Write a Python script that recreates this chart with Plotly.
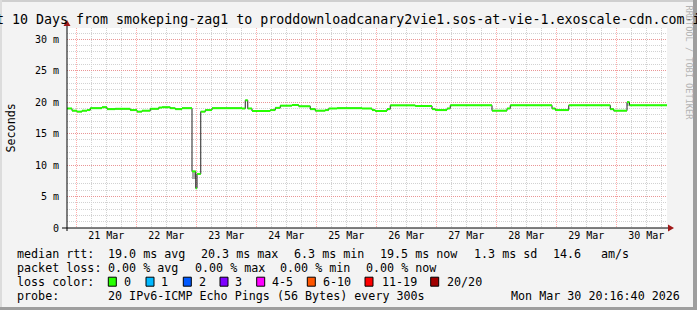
import plotly.graph_objects as go
import pandas as pd

# ---------------- data ----------------
start = pd.Timestamp("2026-03-20 20:16:40")
end = start + pd.Timedelta(days=10)

# median rtt steps: start of each step (hours since start) and value (ms)
seg_start_h = [0, 2, 4, 6, 8, 9.3, 14, 16, 19.3, 25.3,
               28, 30, 33.3, 36.7, 38, 41.3, 43.3, 46, 50, 51.5,
               52, 53.5, 55.3, 58, 70, 71.3, 72.3, 74, 81.3, 83.3,
               85.3, 90, 92.7, 97.3, 99.3, 103.3, 104.7, 108, 118, 122,
               123.3, 128, 129.3, 139.3, 146, 147.3, 152, 153.3, 170, 176,
               177.3, 194, 195.3, 200.7, 217.3, 218.7, 224, 225]
median_ms = [19.0, 18.65, 18.5, 18.65, 18.75, 19.05, 19.2, 18.9, 18.95, 18.75,
             18.5, 18.65, 18.95, 19.15, 19.2, 19.05, 18.9, 19.05, 9.0, 6.3,
             8.6, 18.5, 18.75, 19.05, 19.0, 20.3, 19.0, 18.6, 18.75, 19.1,
             19.45, 19.55, 19.35, 18.9, 18.65, 18.75, 19.0, 19.05, 19.0, 18.75,
             18.6, 18.9, 19.5, 19.4, 18.9, 18.75, 19.0, 19.5, 18.65, 19.0,
             19.5, 19.0, 18.75, 19.5, 18.9, 18.65, 20.0, 19.5]

# visible smoke (ping spread) patches
smoke_start_h = [50, 223.8]
smoke_end_h = [51.5, 224.8]
smoke_lo_ms = [7.8, 19.4]
smoke_hi_ms = [9.0, 20.2]

y_tick_vals = [0, 5, 10, 15, 20, 25, 30]
y_tick_text = ["0", "5 m", "10 m", "15 m", "20 m", "25 m", "30 m"]

title_text = "Last 10 Days from smokeping-zag1 to proddownloadcanary2vie1.sos-at-vie-1.exoscale-cdn.com-ipv6"
rtt_label = "median rtt:"
rtt_items = ["19.0 ms avg", "20.3 ms max", "6.3 ms min", "19.5 ms now", "1.3 ms sd", "14.6", "am/s"]
loss_label = "packet loss:"
loss_items = ["0.00 % avg", "0.00 % max", "0.00 % min", "0.00 % now"]
color_label = "loss color:"
loss_names = ["0", "1", "2", "3", "4-5", "6-10", "11-19", "20/20"]
loss_colors = ["#26ff00", "#00b8ff", "#0059ff", "#7e00ff", "#ff00ff", "#ff5500", "#ff0000", "#a00000"]
probe_label = "probe:"
probe_text = "20 IPv6-ICMP Echo Pings (56 Bytes) every 300s"
stamp_text = "Mon Mar 30 20:16:40 2026"

# ---------------- layout geometry (px) ----------------
W, H = 697, 310
L, R, T, B = 67, 667, 28, 228
PX_PER_MS = 6.29
FONT = "DejaVu Sans Mono"

rtt_x = [107.3, 200, 293.3, 379.3, 472.7, 551.7, 600]
loss_x = [107.3, 194, 279.3, 365]
box_x = [108.3, 146, 183.3, 220, 256.7, 307.3, 365, 430.7]
name_x = [123.3, 160, 197.7, 234.3, 271, 321.7, 380.7, 446]
row_y = [254, 268.3, 281.7, 296]


def px(x):
    return (x - L) / (R - L)


def py(y):
    return (B - y) / (B - T)


def hrs(h):
    return start + pd.Timedelta(hours=h)


t_starts = [hrs(h) for h in seg_start_h]
t_ends = t_starts[1:] + [end]

fig = go.Figure()

# smoke
fig.add_trace(go.Bar(
    x=[hrs((a + b) / 2) for a, b in zip(smoke_start_h, smoke_end_h)],
    y=[h - l for l, h in zip(smoke_lo_ms, smoke_hi_ms)],
    base=smoke_lo_ms,
    width=[(b - a) * 3600000 for a, b in zip(smoke_start_h, smoke_end_h)],
    marker=dict(color=["#a8a8a8", "#c4c4c4"], line=dict(width=0)),
    hoverinfo="skip"))

# dark median (vertical transitions)
fig.add_trace(go.Scatter(
    x=t_starts + [end], y=median_ms + [median_ms[-1]],
    mode="lines", line=dict(color="#202020", width=1, shape="hv"),
    hoverinfo="skip"))

# green horizontal steps (loss 0)
gx, gy = [], []
for a, b, v in zip(t_starts, t_ends, median_ms):
    gx += [a, b, None]
    gy += [v, v, None]
fig.add_trace(go.Scatter(x=gx, y=gy, mode="lines",
                         line=dict(color="#26ff00", width=2), hoverinfo="skip"))

RED_GRID = "rgba(255,90,90,0.5)"
GRAY_GRID = "#d2d2d2"

fig.update_layout(
    width=W, height=H,
    margin=dict(l=L, r=W - R, t=T, b=H - B, pad=0),
    paper_bgcolor="#f3f3f3", plot_bgcolor="#ffffff",
    showlegend=False, bargap=0,
    font=dict(family=FONT, size=10, color="#000000"),
    xaxis=dict(
        type="date", range=[start, end],
        tick0="2026-03-21 00:00:00", dtick=86400000,
        ticklabelmode="period", tickformat="%d %b",
        showgrid=True, gridcolor=RED_GRID, griddash="1px,1px", gridwidth=1,
        minor=dict(dtick=21600000, tick0="2026-03-21 00:00:00", showgrid=True,
                   gridcolor=GRAY_GRID, griddash="1px,1px", gridwidth=1),
        ticks="", showline=False, zeroline=False,
        tickfont=dict(family=FONT, size=10, color="#000000"),
    ),
    yaxis=dict(
        range=[0, (B - T) / PX_PER_MS],
        tickvals=y_tick_vals, ticktext=y_tick_text,
        showgrid=True, gridcolor=RED_GRID, griddash="1px,1px", gridwidth=1,
        minor=dict(dtick=1, tick0=0, showgrid=True,
                   gridcolor=GRAY_GRID, griddash="1px,1px", gridwidth=1),
        ticks="outside", ticklen=5, tickcolor="rgba(0,0,0,0)",
        showline=False, zeroline=False,
        tickfont=dict(family=FONT, size=10, color="#000000"),
    ),
)

shapes = []
# frame
shapes.append(dict(type="rect", xref="paper", yref="paper", layer="above",
                   x0=px(0), x1=px(W), y0=py(0), y1=py(2),
                   fillcolor="#cfcfcf", line=dict(width=0)))
shapes.append(dict(type="rect", xref="paper", yref="paper", layer="above",
                   x0=px(0), x1=px(2), y0=py(0), y1=py(H),
                   fillcolor="#dcdcdc", line=dict(width=0)))
shapes.append(dict(type="rect", xref="paper", yref="paper", layer="above",
                   x0=px(W - 4), x1=px(W), y0=py(0), y1=py(H),
                   fillcolor="#9e9e9e", line=dict(width=0)))
shapes.append(dict(type="rect", xref="paper", yref="paper", layer="above",
                   x0=px(0), x1=px(W), y0=py(H - 3), y1=py(H),
                   fillcolor="#9e9e9e", line=dict(width=0)))
# axes
shapes.append(dict(type="line", xref="paper", yref="paper", layer="above",
                   x0=px(62), x1=px(668), y0=py(228), y1=py(228),
                   line=dict(color="#000000", width=1)))
shapes.append(dict(type="line", xref="paper", yref="paper", layer="above",
                   x0=px(67), x1=px(67), y0=py(231), y1=py(24),
                   line=dict(color="#000000", width=1)))
ARROW = "#a01818"
shapes.append(dict(type="path", xref="paper", yref="paper", layer="above",
                   path=f"M {px(668)} {py(224.5)} L {px(674)} {py(228)} L {px(668)} {py(231.5)} Z",
                   fillcolor=ARROW, line=dict(color=ARROW, width=0)))
shapes.append(dict(type="path", xref="paper", yref="paper", layer="above",
                   path=f"M {px(63.5)} {py(26)} L {px(67)} {py(20)} L {px(70.5)} {py(26)} Z",
                   fillcolor=ARROW, line=dict(color=ARROW, width=0)))
# loss color boxes
for bx, col in zip(box_x, loss_colors):
    shapes.append(dict(type="rect", xref="paper", yref="paper", layer="above",
                       x0=px(bx), x1=px(bx + 8), y0=py(row_y[2] - 4.5), y1=py(row_y[2] + 4.5),
                       fillcolor=col, line=dict(color="#000000", width=1)))
fig.update_layout(shapes=shapes)

ann = []


def txt(x, y, s, size=11.7, anchor="left", color="#000000", angle=0):
    ann.append(dict(xref="paper", yref="paper", x=px(x), y=py(y), text=s,
                    showarrow=False, xanchor=anchor, yanchor="middle",
                    borderpad=0, textangle=angle,
                    font=dict(family=FONT, size=size, color=color)))


txt(348.5, 19, title_text, size=13.3, anchor="center")
txt(688.5, 63, "RRDTOOL / TOBI OETIKER", size=8.6, anchor="center", color="#b4b4b4", angle=90)
txt(10.5, 128, "Seconds", anchor="center", angle=-90)

txt(16, row_y[0], rtt_label)
for x, s in zip(rtt_x, rtt_items):
    txt(x, row_y[0], s)
txt(16, row_y[1], loss_label)
for x, s in zip(loss_x, loss_items):
    txt(x, row_y[1], s)
txt(16, row_y[2], color_label)
for x, s in zip(name_x, loss_names):
    txt(x, row_y[2], s)
txt(16, row_y[3], probe_label)
txt(107.3, row_y[3], probe_text)
txt(681, row_y[3], stamp_text, anchor="right")

fig.update_layout(annotations=ann)
fig.write_html("out.html")
